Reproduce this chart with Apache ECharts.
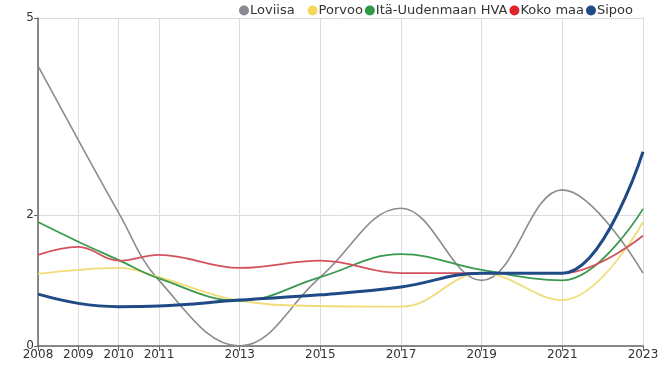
<!DOCTYPE html>
<html><head><meta charset="utf-8">
<script src="https://cdn.jsdelivr.net/npm/echarts@6/dist/echarts.min.js"></script>
<style>html,body{margin:0;padding:0;background:#fff}#c{width:670px;height:372px}</style>
</head><body><div id="c"></div>
<script>
const years = [2008, 2009, 2010, 2011, 2013, 2015, 2017, 2019, 2021, 2023];
const yTicks = [0, 2, 5];
const loviisa = [4.27, 3.14, 2.03, 1.0, 0.0, 1.05, 2.1, 1.0, 2.38, 1.11];
const porvoo  = [1.10, 1.16, 1.19, 1.05, 0.69, 0.61, 0.60, 1.11, 0.70, 1.89];
const itaUusimaa = [1.89, 1.59, 1.31, 1.03, 0.69, 1.05, 1.40, 1.16, 1.0, 2.09];
const kokoMaa = [1.39, 1.51, 1.30, 1.39, 1.19, 1.30, 1.11, 1.11, 1.11, 1.68];
const sipoo   = [0.79, 0.65, 0.60, 0.61, 0.70, 0.78, 0.90, 1.11, 1.11, 2.96];

const names = ['Loviisa', 'Porvoo', 'Itä-Uudenmaan HVA', 'Koko maa', 'Sipoo'];
const values = [loviisa, porvoo, itaUusimaa, kokoMaa, sipoo];
const colors = ['#8c8c8c', '#f2dc78', '#3a9a4e', '#d3525c', '#1f4a86'];
const legendColors = ['#8a8a92', '#f5d75a', '#2e9a44', '#e0262a', '#1f4a86'];
const widths = [1.6, 1.8, 1.8, 1.8, 3];

const chart = echarts.init(document.getElementById('c'), null, {renderer: 'canvas'});
const font = 'DejaVu Sans';
const legendBase = {
  top: 4, padding: 0, icon: 'circle', itemWidth: 10, itemHeight: 10, itemGap: 2,
  textStyle: {fontSize: 13, color: '#333', fontFamily: font, padding: [0, 0, 0, -4]}
};
chart.setOption({
  animation: false,
  textStyle: {fontFamily: font},
  grid: {left: 38, right: 27, top: 18, bottom: 26},
  legend: [
    Object.assign({}, legendBase, {left: 239,
      data: names.slice(0, 1).map((n, i) => ({name: n, itemStyle: {color: legendColors[i]}}))}),
    Object.assign({}, legendBase, {right: 37,
      data: names.slice(1).map((n, i) => ({name: n, itemStyle: {color: legendColors[i + 1]}}))})
  ],
  xAxis: {
    type: 'value', min: 2008, max: 2023,
    axisLine: {show: true, lineStyle: {color: '#666', width: 1.5}},
    axisTick: {show: true, customValues: years, length: 5, lineStyle: {color: '#666'}},
    axisLabel: {customValues: years, color: '#333', fontSize: 12, margin: 3, formatter: v => String(v)},
    splitLine: {show: true, customValues: years, lineStyle: {color: '#dcdcdc', width: 1}}
  },
  yAxis: {
    type: 'value', min: 0, max: 5,
    axisLine: {show: true, lineStyle: {color: '#666', width: 1.5}},
    axisTick: {show: true, customValues: yTicks, length: 4, lineStyle: {color: '#666'}},
    axisLabel: {customValues: yTicks, color: '#333', fontSize: 12, margin: 4},
    splitLine: {show: true, customValues: yTicks, lineStyle: {color: '#dcdcdc', width: 1}}
  },
  series: names.map((n, i) => ({
    name: n, type: 'line', smooth: 0.4, showSymbol: false,
    color: legendColors[i],
    lineStyle: {color: colors[i], width: widths[i]},
    data: years.map((y, j) => [y, values[i][j]])
  }))
});
</script></body></html>
